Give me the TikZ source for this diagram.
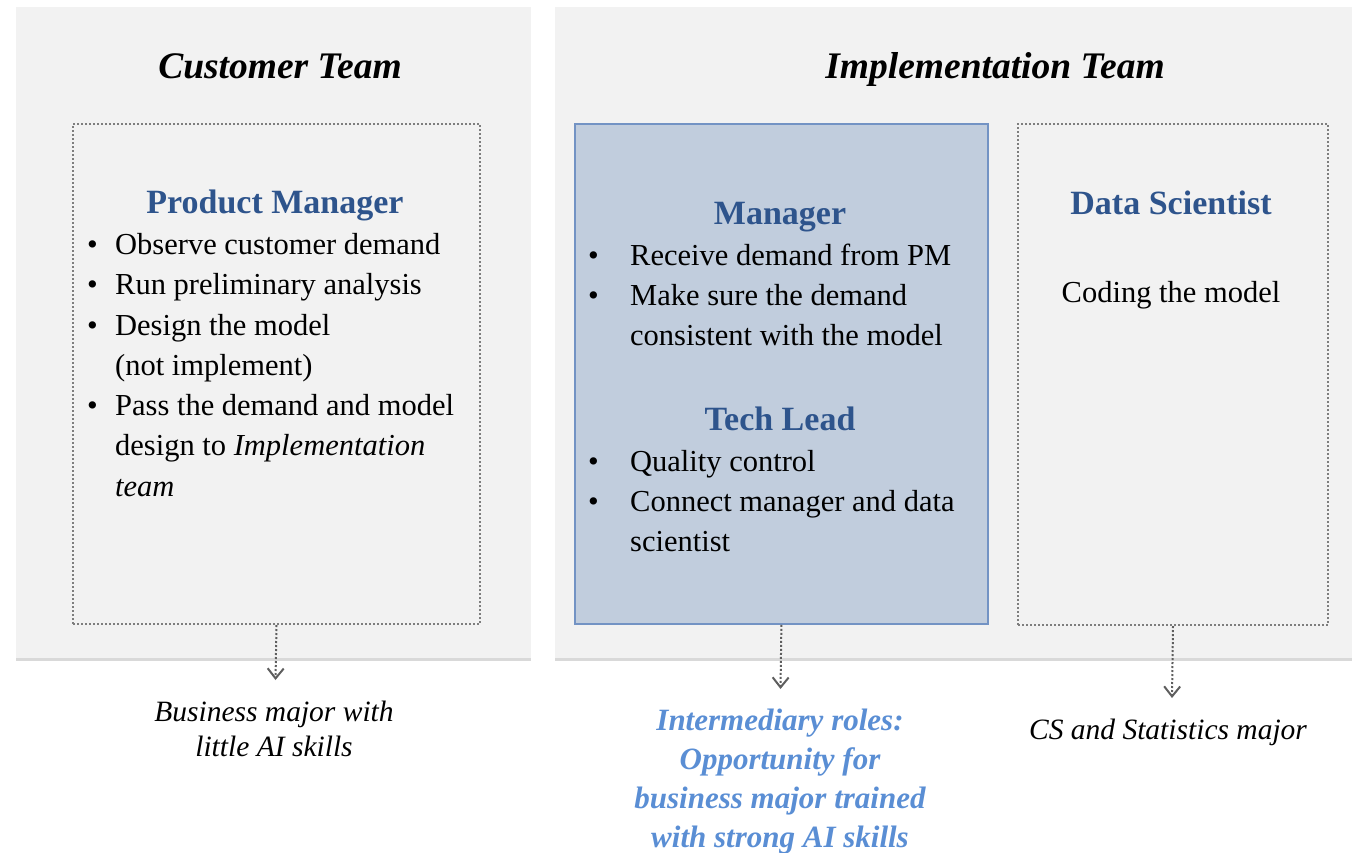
\documentclass[tikz,border=0pt]{standalone}
\usepackage{fontspec}
\setmainfont{Liberation Serif}
\usetikzlibrary{arrows.meta,shadows}
\definecolor{panelgray}{HTML}{F2F2F2}
\definecolor{leadfill}{HTML}{C1CDDD}
\definecolor{leadline}{HTML}{7393C4}
\definecolor{headblue}{HTML}{2E548C}
\definecolor{noteblue}{HTML}{5A8ED4}
\definecolor{dotgray}{HTML}{7E7E7E}
\definecolor{arrowgray}{HTML}{5E5E5E}
\newcommand{\pmdot}{\llap{\textbullet\hskip 17.5pt}}
\newcommand{\mgdot}{\llap{\textbullet\hskip 31.5pt}}
\tikzset{panel/.style={fill=panelgray, draw=none, anchor=north west, inner sep=0pt,
    drop shadow={shadow xshift=0pt, shadow yshift=-2.5pt, opacity=0.3}},
  rolebox/.style={draw=dotgray, dotted, line width=2pt, anchor=north west, inner sep=0pt},
  leadbox/.style={fill=leadfill, draw=leadline, line width=1.8pt, anchor=north west, inner sep=0pt},
  teamtitle/.style={font=\fontsize{37.5}{45}\selectfont\bfseries\itshape, anchor=base, inner sep=0pt},
  rolehead/.style={font=\fontsize{34}{40}\selectfont\bfseries, text=headblue, anchor=base, inner sep=0pt},
  itemtext/.style={font=\fontsize{30.5}{40}\selectfont, anchor=base west, inner sep=0pt},
  majornote/.style={font=\fontsize{29.5}{35}\selectfont\itshape, anchor=base, inner sep=0pt},
  bridgenote/.style={font=\fontsize{31}{39}\selectfont\bfseries\itshape, text=noteblue, anchor=base, inner sep=0pt},
  linkarrow/.style={draw=arrowgray, dotted, line width=2pt,
    -{Straight Barb[length=10pt,width=16pt,line width=2pt]}}}

\begin{document}
\begin{tikzpicture}[x=1pt, y=-1pt]

    \useasboundingbox (0,0) rectangle (1363,852);

    % team panels
    \node[panel, minimum width=515pt, minimum height=651pt] (custpanel) at (16,7) {};
    \node[panel, minimum width=797pt, minimum height=651pt] (implpanel) at (555,7) {};

    \node[teamtitle] (custtitle) at (280,78) {Customer Team};
    \node[teamtitle] (impltitle) at (995,78) {Implementation Team};

    % role boxes
    \node[rolebox, minimum width=407pt, minimum height=500pt] (pm) at (72,123) {};
    \node[leadbox, minimum width=413pt, minimum height=500pt] (mgr) at (574,123) {};
    \node[rolebox, minimum width=310pt, minimum height=501pt] (ds) at (1017,123) {};

    % product manager
    \node[rolehead] (pmhead) at (275,213) {Product Manager};
    \foreach \y/\t [count=\i] in {254/{\pmdot Observe customer demand},
        294/{\pmdot Run preliminary analysis},
        335/{\pmdot Design the model},
        375/{(not implement)},
        415/{\pmdot Pass the demand and model},
        455/{design to \textit{Implementation}},
        496/{\textit{team}}}
    \node[itemtext] (pm\i) at (115,\y) {\t};

    % manager and tech lead
    \node[rolehead] (mgrhead) at (780,224) {Manager};
    \foreach \y/\t [count=\i] in {265/{\mgdot Receive demand from PM},
        305/{\mgdot Make sure the demand},
        345/{consistent with the model}}
    \node[itemtext] (mgr\i) at (630,\y) {\t};

    \node[rolehead] (leadhead) at (780,430) {Tech Lead};
    \foreach \y/\t [count=\i] in {471/{\mgdot Quality control},
        511/{\mgdot Connect manager and data},
        551/{scientist}}
    \node[itemtext] (lead\i) at (630,\y) {\t};

    % data scientist
    \node[rolehead] (dshead) at (1171,214) {Data Scientist};
    \node[itemtext, anchor=base] (dstext) at (1171,302) {Coding the model};

    % arrows to majors
    \coordinate (pmend) at (275.5,680);
    \coordinate (mgrend) at (780.5,689);
    \coordinate (dsend) at (1172,698);

    \draw[linkarrow] (pm.south) -- (pmend);
    \draw[linkarrow] (mgr.south) -- (mgrend);
    \draw[linkarrow] (ds.south) -- (dsend);

    \node[majornote] (pmmajor1) at (274,721) {Business major with};
    \node[majornote] (pmmajor2) at (274,756) {little AI skills};

    \foreach \y/\t [count=\i] in {730/{Intermediary roles:},
        769/{Opportunity for},
        808/{business major trained},
        847/{with strong AI skills}}
    \node[bridgenote] (bridge\i) at (780,\y) {\t};

    \node[majornote] (dsmajor) at (1168,739) {CS and Statistics major};

\end{tikzpicture}
\end{document}
